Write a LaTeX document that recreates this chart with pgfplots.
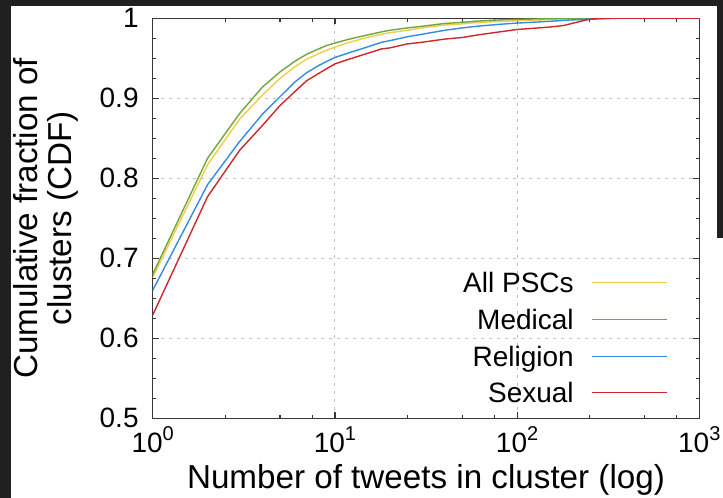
\documentclass[border=0pt]{standalone}
\usepackage{fontspec}
\setmainfont{Liberation Sans}
\usepackage{pgfplots}
\usepackage{pgfplotstable}
\pgfplotsset{compat=1.18}
\definecolor{cyel}{RGB}{240,205,70}
\definecolor{cgrn}{RGB}{110,168,60}
\definecolor{cblu}{RGB}{50,140,230}
\definecolor{cred}{RGB}{205,40,45}
\definecolor{darkbg}{RGB}{32,32,32}
\definecolor{axcol}{RGB}{55,55,55}
\newcommand{\tp}[1]{10\raisebox{6.3pt}{\fontsize{10pt}{10pt}\selectfont #1}}

\pgfplotstableread{
x y
1 0.676
2 0.817
3 0.874
4 0.904
5 0.925
6 0.939
7 0.949
8 0.955
9 0.960
10 0.964
12 0.970
15 0.976
18 0.980
20 0.982
25 0.985
30 0.988
40 0.9916
50 0.993
60 0.9948
80 0.996
100 0.997
150 0.9985
200 0.9993
300 1.0
1000 1.0
}\allpsc

\pgfplotstableread{
x y
1 0.680
2 0.825
3 0.881
4 0.914
5 0.933
6 0.946
7 0.955
8 0.961
9 0.966
10 0.969
12 0.974
15 0.979
18 0.983
20 0.985
25 0.988
30 0.990
40 0.9935
50 0.995
60 0.9965
80 0.998
100 0.9987
150 0.9995
200 1.0
1000 1.0
}\medical

\pgfplotstableread{
x y
1 0.660
2 0.792
3 0.846
4 0.880
5 0.902
6 0.920
7 0.932
8 0.940
9 0.946
10 0.951
12 0.957
15 0.964
18 0.970
20 0.972
25 0.977
30 0.980
40 0.985
50 0.988
60 0.990
80 0.9925
100 0.994
150 0.9962
200 0.998
250 0.9987
350 1.0
1000 1.0
}\religion

\pgfplotstableread{
x y
1 0.629
2 0.777
3 0.835
4 0.866
5 0.891
6 0.908
7 0.922
8 0.930
9 0.937
10 0.943
12 0.949
15 0.956
18 0.9617
20 0.963
25 0.968
30 0.970
40 0.974
50 0.976
60 0.979
80 0.983
100 0.986
150 0.989
180 0.991
240 0.998
270 1.0
1000 1.0
}\sexual

\begin{document}
\begin{tikzpicture}
\useasboundingbox (0,0) rectangle (361.5pt,249pt);
\fill[white] (0,0) rectangle (361.5pt,249pt);
\fill[darkbg] (0,0) rectangle (5.5pt,249pt);
\fill[darkbg] (0,246pt) rectangle (361.5pt,249pt);
\fill[darkbg] (358.5pt,130pt) rectangle (361.5pt,249pt);
\begin{axis}[
  at={(76.35pt,39.85pt)}, anchor=south west,
  width=273.3pt, height=200pt, scale only axis,
  xmode=log, xmin=1, xmax=1000, ymin=0.5, ymax=1,
  xtick={1,10,100,1000},
  xticklabels={\tp{0},\tp{1},\tp{2},\tp{3}},
  minor xtick={2.5,5,7.5,25,50,75,250,500,750},
  ytick={0.5,0.6,0.7,0.8,0.9,1},
  minor y tick num=3,
  /pgf/number format/assume math mode=true,
  tick align=inside,
  major tick length=3pt, minor tick length=1.75pt,
  every tick/.style={axcol, line width=0.6pt},
  axis line style={axcol, line width=0.75pt},
  grid=major,
  major grid style={dash pattern=on 1.5pt off 2.5pt, black!25, line width=0.5pt},
  xticklabel style={font=\fontsize{14pt}{14pt}\selectfont, anchor=base, yshift=-17.35pt, inner sep=0pt},
  yticklabel style={font=\fontsize{14pt}{14pt}\selectfont, anchor=east, xshift=-6.85pt, inner sep=0pt},
  xlabel={Number of tweets in cluster (log)},
  xlabel style={font=\fontsize{16.6pt}{17pt}\selectfont, at={(axis description cs:0.5,-0.17425)}, anchor=base, inner sep=0pt},
  ylabel={Cumulative fraction of\\clusters (CDF)},
  ylabel style={font=\fontsize{16.6pt}{17pt}\selectfont, align=center, at={(axis description cs:-0.1961,0.5)}, anchor=center, inner sep=0pt},
  legend plot pos=right,
  legend cell align=right,
  legend image code/.code={\draw[#1, line width=0.6pt] (0pt,0pt) -- (37.5pt,0pt);},
  legend style={draw=none, fill=none, font=\fontsize{14pt}{14pt}\selectfont,
    at={(rel axis cs:0.9433,0.0375)}, anchor=south east, inner sep=0pt,
    row sep=8.35pt, column sep=9pt,
    nodes={inner sep=0pt, text height=10pt, text depth=0pt}},
  every axis plot/.append style={line width=0.7pt},
]
\addplot[cyel] table {\allpsc};
\addlegendentry{All PSCs}
\addplot[cgrn] table {\medical};
\addlegendentry{Medical}
\addplot[cblu] table {\religion};
\addlegendentry{Religion}
\addplot[cred] table {\sexual};
\addlegendentry{Sexual}
\end{axis}
\end{tikzpicture}
\end{document}
